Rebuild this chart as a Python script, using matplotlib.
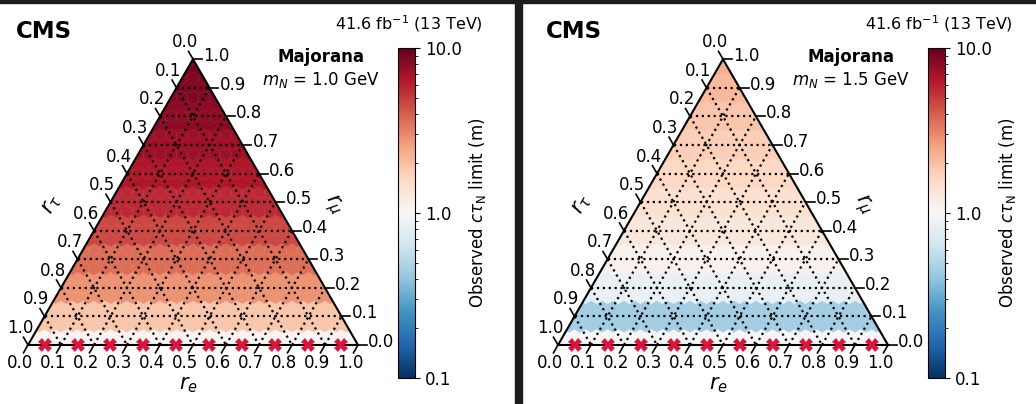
"""
Observed c*tau limits for a Majorana HNL in the (r_e, r_mu, r_tau) plane.

Two ternary heat maps, one per HNL mass, drawn with plain matplotlib:
hexagon cells, dotted 0.1 grid, ticks on all three sides and a log colour bar.

How to run:
python plot.py
"""

import numpy as np
import matplotlib.pyplot as plt
from matplotlib.collections import PolyCollection
from matplotlib.colors import LogNorm
from matplotlib.patches import Polygon, Rectangle
from matplotlib.ticker import LogLocator, NullFormatter


# 1. Data

# limits are given per r_mu level (the rows of the triangle)
r_mu_levels = [0.0, 0.1, 0.2, 0.3, 0.4, 0.5, 0.6, 0.7, 0.8, 0.9, 1.0]

limit_m1p0 = [1.05, 1.9, 2.8, 3.6, 4.6, 5.6, 6.4, 7.2, 7.9, 8.5, 9.0]
limit_m1p5 = [1.0, 0.45, 0.85, 1.1, 1.3, 1.45, 1.6, 1.75, 1.9, 2.1, 2.3]

mass_labels = ["1.0", "1.5"]

# points with r_mu = 0 that have no limit
excluded_r_e = [0.05, 0.15, 0.25, 0.35, 0.45, 0.55, 0.65, 0.75, 0.85, 0.95]

tick_values = [0.0, 0.1, 0.2, 0.3, 0.4, 0.5, 0.6, 0.7, 0.8, 0.9, 1.0]
tick_labels = ["0.0", "0.1", "0.2", "0.3", "0.4", "0.5", "0.6", "0.7", "0.8", "0.9", "1.0"]

colorbar_ticks = [0.1, 1.0, 10.0]
colorbar_tick_labels = ["0.1", "1.0", "10.0"]


# 2. Layout settings (pixels)

W, H = 1036, 404
SIDE = 330          # triangle side length
SQ3 = np.sqrt(3) / 2
N_HEX = 30          # hexagon cells per side
PANEL_SHIFT = 530
TICK_LEN = 9 / SIDE

fig = plt.figure(figsize=(W / 100, H / 100), dpi=100)
norm = LogNorm(vmin=0.1, vmax=10)
cmap = plt.get_cmap("RdBu_r")


def fig_text(px, py, text, **kwargs):
    fig.text(px / W, 1 - py / H, text, **kwargs)


def draw_panel(x0, limits, mass):
    ax = fig.add_axes([x0 / W, 0, 510 / W, 1])
    ax.set_xlim(-28 / SIDE, 482 / SIDE)
    ax.set_ylim(-59 / SIDE, 345 / SIDE)
    ax.axis("off")

    corners = np.array([[0, 0], [1, 0], [0.5, SQ3]])

    # hexagon heat map
    radius = 1 / N_HEX / np.sqrt(3)
    angles = np.radians([30, 90, 150, 210, 270, 330])
    hexes = []
    values = []
    for j in range(N_HEX + 1):
        level = int(np.floor(j / 3 + 0.5))
        for i in range(N_HEX - j + 1):
            cx = (i + j / 2) / N_HEX
            cy = j * SQ3 / N_HEX
            hexes.append(np.column_stack([cx + radius * np.cos(angles),
                                          cy + radius * np.sin(angles)]))
            values.append(limits[level])

    cells = PolyCollection(hexes, cmap=cmap, norm=norm, edgecolors="face", linewidths=0.3)
    cells.set_array(np.array(values))
    ax.add_collection(cells)
    cells.set_clip_path(Polygon(corners, closed=True, transform=ax.transData))

    # dotted grid
    for v in tick_values[1:-1]:
        grid_lines = [
            [(v / 2, v * SQ3), (1 - v / 2, v * SQ3)],
            [(v, 0), (1 - (1 - v) / 2, (1 - v) * SQ3)],
            [((1 - v) / 2, (1 - v) * SQ3), (1 - v, 0)],
        ]
        for (xa, ya), (xb, yb) in grid_lines:
            ax.plot([xa, xb], [ya, yb], color="black", linestyle=":", linewidth=1.6, zorder=3)

    ax.add_patch(Polygon(corners, closed=True, fill=False, edgecolor="black", linewidth=1.5, zorder=4))

    # ticks and labels on the three sides
    for v, label in zip(tick_values, tick_labels):
        # bottom: r_e
        bx, by = v, 0
        ax.plot([bx, bx - TICK_LEN / 2], [by, by - TICK_LEN * SQ3], color="black", linewidth=1.2, zorder=4)
        ax.text(bx - 8 / SIDE, by - 18 / SIDE, label, fontsize=12, ha="center", va="center")

        # left: r_tau (0 at top)
        lx, ly = (1 - v) / 2, (1 - v) * SQ3
        ax.plot([lx, lx - TICK_LEN / 2], [ly, ly + TICK_LEN * SQ3], color="black", linewidth=1.2, zorder=4)
        ax.text(lx - 8 / SIDE, ly + 17 / SIDE, label, fontsize=12, ha="center", va="center")

        # right: r_mu (0 at bottom)
        rx, ry = 1 - v / 2, v * SQ3
        ax.plot([rx, rx + TICK_LEN], [ry, ry], color="black", linewidth=1.2, zorder=4)
        ax.text(rx + TICK_LEN + 1 / SIDE, ry + 3 / SIDE, label, fontsize=12, ha="left", va="center")

    ax.plot(excluded_r_e, [0] * len(excluded_r_e), linestyle="none", marker="X",
            markersize=9.5, color="#dc143c", markeredgewidth=0, zorder=6, clip_on=False)

    ax.text(160 / SIDE, -40 / SIDE, r"$r_e$", fontsize=15, ha="center", va="center")
    ax.text(24 / SIDE, 140 / SIDE, r"$r_\tau$", fontsize=15, ha="center", va="center", rotation=60)
    ax.text(305 / SIDE, 140 / SIDE, r"$r_\mu$", fontsize=15, ha="center", va="center", rotation=-60)

    # header texts
    fig_text(x0 + 16, 31, "CMS", fontsize=16.5, fontweight="bold", ha="left", va="center")
    fig_text(x0 + 483, 24, r"41.6 fb$^{-1}$ (13 TeV)", fontsize=11.5, ha="right", va="center")
    fig_text(x0 + 321, 57, "Majorana", fontsize=12, fontweight="bold", ha="center", va="center")
    fig_text(x0 + 321, 80, r"$m_N$ = " + mass + " GeV", fontsize=12, ha="center", va="center")

    # colour bar
    cax = fig.add_axes([(x0 + 398) / W, (H - 378) / H, 17 / W, 330 / H])
    cb = fig.colorbar(cells, cax=cax)
    cb.set_ticks(colorbar_ticks)
    cb.set_ticklabels(colorbar_tick_labels)
    cb.ax.yaxis.set_minor_locator(LogLocator(base=10, subs=np.arange(2, 10)))
    cb.ax.yaxis.set_minor_formatter(NullFormatter())
    cb.ax.tick_params(labelsize=12)
    cb.set_label(r"Observed $c\tau_{\mathrm{N}}$ limit (m)", fontsize=12, labelpad=4)


# 3. Draw both panels

draw_panel(0, limit_m1p0, mass_labels[0])
draw_panel(PANEL_SHIFT, limit_m1p5, mass_labels[1])

# dark frame between the two panels
fig.patches.append(Rectangle((0, 1 - 3 / H), 1, 3 / H, transform=fig.transFigure,
                             color="#1c1c1c", zorder=10))
fig.patches.append(Rectangle((515 / W, 0), 7 / W, 1, transform=fig.transFigure,
                             color="#1c1c1c", zorder=10))

fig.savefig("out.png", dpi=100)
